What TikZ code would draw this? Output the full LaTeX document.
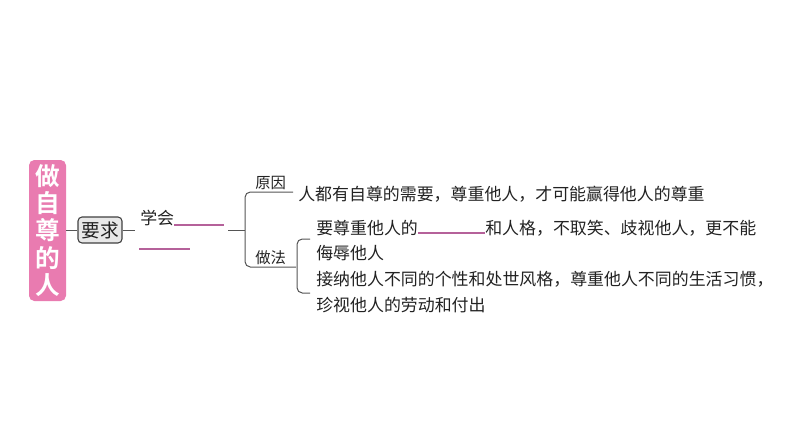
\documentclass[tikz,border=0pt]{standalone}
\usepackage{fontspec}
\newfontfamily\cjk{Noto Sans CJK SC}[BoldFont={Noto Sans CJK SC Bold}]
\definecolor{titlepink}{HTML}{E97BB0}
\definecolor{blankpink}{HTML}{B5619A}
\definecolor{linegray}{HTML}{555555}
\definecolor{txt}{HTML}{222222}
\tikzset{
  titlebox/.style={fill=titlepink, rounded corners=4pt, minimum width=27.75pt, minimum height=105.75pt, inner sep=0pt, text=white, font=\cjk\bfseries\fontsize{18.5}{20}\selectfont, align=center},
  reqbox/.style={draw=black!75, fill=black!9, rounded corners=3pt, line width=0.8pt, minimum width=33pt, minimum height=19.5pt, inner sep=0pt, font=\cjk\fontsize{14}{16}\selectfont, text=txt},
  conn/.style={draw=linegray, line width=0.75pt},
  brk/.style={draw=linegray, line width=0.75pt, rounded corners=4pt},
  body/.style={anchor=west, inner sep=0pt, font=\cjk\fontsize{12.7}{15}\selectfont, text=txt},
  label/.style={anchor=west, inner sep=0pt, font=\cjk\fontsize{11.5}{14}\selectfont, text=txt},
  pinkline/.style={draw=blankpink, line width=1pt}
}
\begin{document}
\begin{tikzpicture}[x=0.75pt, y=-0.75pt]
\useasboundingbox (0,0) rectangle (794,447);
\node[titlebox] (title) at (47.5,230.5) {做\\[0.5pt]自\\[0.5pt]尊\\[0.5pt]的\\[0.5pt]人};
\node[reqbox] (req) at (100,230) {要求};
\coordinate (reqstub) at (135,230);
\draw[conn] (title.east |- req.west) -- (req.west);
\draw[conn] (req.east) -- (reqstub);
\node[body, anchor=west] (xuehui) at (140,218) {学会};
\coordinate (b1s) at (174,225);
\coordinate (b1e) at (224,225);
\draw[pinkline] (b1s) -- (b1e);
\coordinate (b2s) at (139,249);
\coordinate (b2e) at (190,249);
\draw[pinkline] (b2s) -- (b2e);
\coordinate (brin) at (228,230);
\coordinate (brmid) at (245,230);
\draw[conn] (brin) -- (brmid);
\coordinate (ytop) at (293,192);
\coordinate (ybot) at (296,267);
\draw[brk] (ytop) -- (245,192) -- (245,267) -- (ybot);
\node[label] (yuanyin) at (255,183) {原因};
\node[label] (zuofa) at (255,258) {做法};
\node[body] (reason) at (298,194) {人都有自尊的需要，尊重他人，才可能赢得他人的尊重};
\draw[brk] (310,239) -- (297,239) -- (297,293) -- (310,293);
\node[body] (m1a) at (316,228) {要尊重他人的};
\coordinate (b3s) at (418,233);
\coordinate (b3e) at (485,233);
\draw[pinkline] (b3s) -- (b3e);
\node[body] (m1c) at (485,228) {和人格，不取笑、歧视他人，更不能};
\node[body] (m1b) at (316,253) {侮辱他人};
\node[body] (m2a) at (316,279) {接纳他人不同的个性和处世风格，尊重他人不同的生活习惯，};
\node[body] (m2b) at (316,305) {珍视他人的劳动和付出};
\end{tikzpicture}
\end{document}
